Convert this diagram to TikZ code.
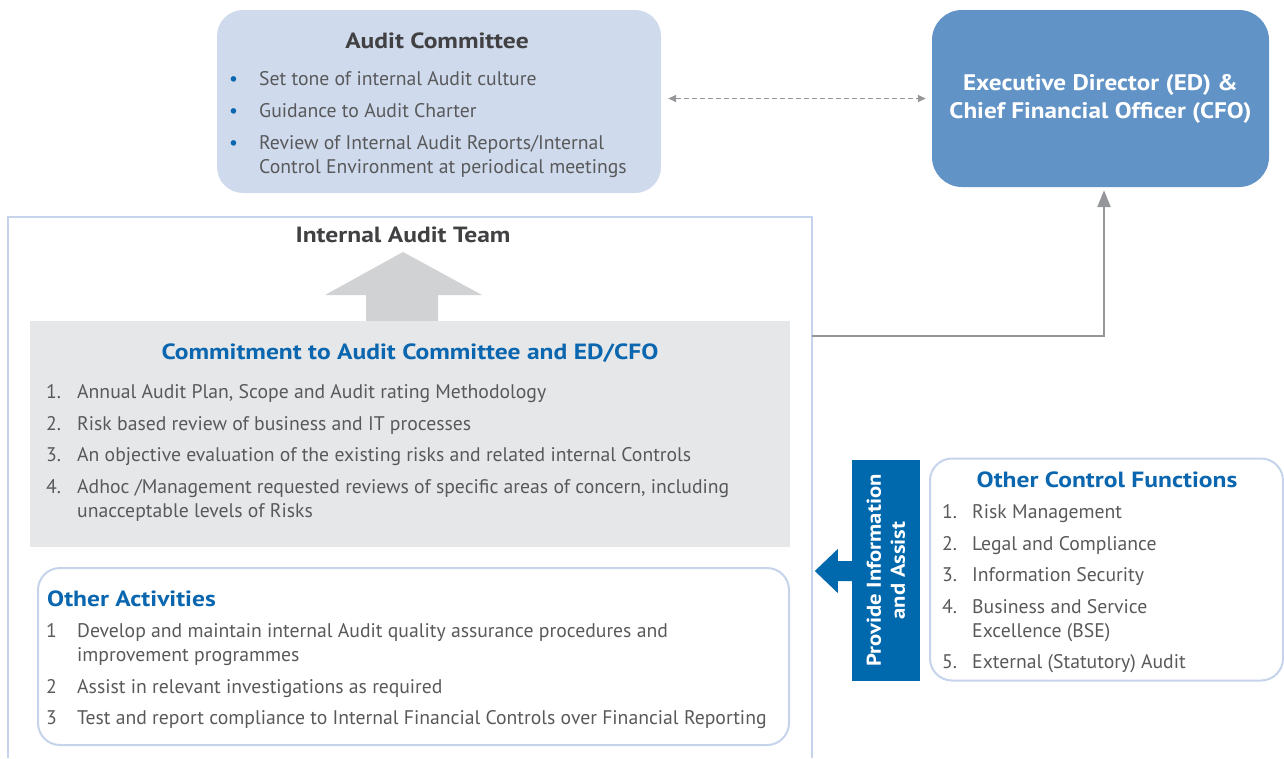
\documentclass[tikz,border=0pt]{standalone}
\usepackage{fontspec}
\setmainfont{PT Sans}
\newfontfamily\titlefont[FakeStretch=1.16]{PT Sans}
\newfontfamily\execfont[FakeStretch=1.12]{PT Sans}
\newfontfamily\infofont[FakeStretch=1.13]{PT Sans}
\usetikzlibrary{arrows.meta,positioning,calc}
\definecolor{committeefill}{HTML}{CFDAEC}
\definecolor{execblue}{HTML}{6193C6}
\definecolor{frameblue}{HTML}{C5D4EB}
\definecolor{headblue}{HTML}{0A66AE}
\definecolor{infoblue}{HTML}{0068AD}
\definecolor{panelgray}{HTML}{E6E7E9}
\definecolor{bigarrowgray}{HTML}{D1D2D4}
\definecolor{titlegray}{HTML}{414042}
\definecolor{bodygray}{HTML}{58595B}
\definecolor{linkgray}{HTML}{949699}
\tikzset{
  committeebox/.style={fill=committeefill,rounded corners=26pt,minimum width=444pt,
    minimum height=183pt,inner sep=0pt},
  execbox/.style={fill=execblue,rounded corners=30pt,minimum width=337pt,minimum height=177pt,
    text=white,align=center,font=\execfont\bfseries\fontsize{22.5}{28}\selectfont},
  outlinebox/.style={draw=frameblue,line width=2pt,rounded corners=22pt,inner sep=0pt},
  panelbox/.style={fill=panelgray,minimum width=760pt,minimum height=226pt,inner sep=0pt},
  infobox/.style={fill=infoblue,rotate=90,minimum width=221pt,minimum height=68pt,
    text=white,align=center,font=\infofont\bfseries\fontsize{20}{24}\selectfont},
  titletext/.style={inner sep=0pt,font=\titlefont\bfseries\fontsize{22}{26}\selectfont},
  listtext/.style={anchor=north west,inner sep=0pt,align=left,text=bodygray,
    font=\fontsize{19.7}{24}\selectfont},
  dashlink/.style={{Triangle[length=8pt,width=7pt]}-{Triangle[length=8pt,width=7pt]},
    draw=linkgray,line width=1.5pt,dash pattern=on 5pt off 3pt},
  reportlink/.style={-{Triangle[length=17pt,width=13pt]},draw=linkgray,line width=2.5pt}
}
\newcommand{\numitem}[2]{\makebox[31pt][l]{#1}#2}
\newcommand{\dotitem}[1]{\makebox[30pt][l]{\textcolor{headblue}{\textbullet}}#1}

\begin{document}
\begin{tikzpicture}[x=1pt,y=-1pt]
\path[use as bounding box] (0,0) rectangle (1284,758);
\node[committeebox] (committee) at (439,101.5) {};
\node[titletext,text=titlegray] (committeetitle) at (437,40.5) {Audit Committee};
\node[listtext] (committeelist) at (229,68.7) {\strut\dotitem{Set tone of internal Audit culture}\\[8pt]
  \dotitem{Guidance to Audit Charter}\\[8pt]
  \dotitem{Review of Internal Audit Reports/Internal}\\
  \hspace*{30pt}Control Environment at periodical meetings};
\node[execbox] (exec) at (1100.5,98.5) {Executive Director (ED) \&\\Chief Financial Officer (CFO)};
\draw[dashlink,shorten <=7pt,shorten >=6pt] (committee.east |- exec.west) -- (exec.west);
\draw[draw=frameblue,line width=2pt] (8,758) -- (8,217) -- (812,217) -- (812,758);
\node[titletext,text=titlegray] (teamtitle) at (403,234.5) {Internal Audit Team};
\fill[bigarrowgray] (366,321) -- (366,295) -- (325,295) -- (403,252) -- (482,295)
  -- (438,295) -- (438,321) -- cycle;
\node[panelbox] (commit) at (410,434) {};
\node[titletext,text=headblue] (committitle) at (410,353) {Commitment to Audit Committee and ED/CFO};
\node[listtext] (commitlist) at (46,381.5) {\strut\numitem{1.}{Annual Audit Plan, Scope and Audit rating Methodology}\\[7.5pt]
  \numitem{2.}{Risk based review of business and IT processes}\\[7.5pt]
  \numitem{3.}{An objective evaluation of the existing risks and related internal Controls}\\[7.5pt]
  \numitem{4.}{Adhoc /Management requested reviews of specific areas of concern, including}\\
  \hspace*{31pt}unacceptable levels of Risks};
\node[outlinebox,minimum width=751pt,minimum height=177pt] (activities) at (413.5,656.5) {};
\node[titletext,text=headblue,anchor=west] (activitiestitle) at (47,598.5) {Other Activities};
\node[listtext] (activitieslist) at (46,620.5) {\strut\numitem{1}{Develop and maintain internal Audit quality assurance procedures and}\\
  \hspace*{31pt}improvement programmes\\[7.5pt]
  \numitem{2}{Assist in relevant investigations as required}\\[7.5pt]
  \numitem{3}{Test and report compliance to Internal Financial Controls over Financial Reporting}};
\coordinate (teamedge) at (812,336);
\draw[reportlink,shorten >=3pt] (teamedge) -| ($(exec.south)+(3.5,0)$);
\node[infobox] (provide) at (886,570.5) {Provide Information\\and Assist};
\fill[infoblue] ($(provide.north)+(0,-9.5)$) -- ++(-14,0) -- ++(0,-12) -- ++(-23,22)
  -- ++(23,22) -- ++(0,-12) -- ++(14,0) -- cycle;
\node[outlinebox,minimum width=353pt,minimum height=222pt] (control) at (1106.5,569.5) {};
\node[titletext,text=headblue] (controltitle) at (1107,479.5) {Other Control Functions};
\node[listtext] (controllist) at (942,501.5) {\strut\makebox[30pt][l]{1.}Risk Management\\[7.5pt]
  \makebox[30pt][l]{2.}Legal and Compliance\\[7.5pt]
  \makebox[30pt][l]{3.}Information Security\\[7.5pt]
  \makebox[30pt][l]{4.}Business and Service\\
  \hspace*{30pt}Excellence (BSE)\\[7.5pt]
  \makebox[30pt][l]{5.}External (Statutory) Audit};
\end{tikzpicture}
\end{document}
